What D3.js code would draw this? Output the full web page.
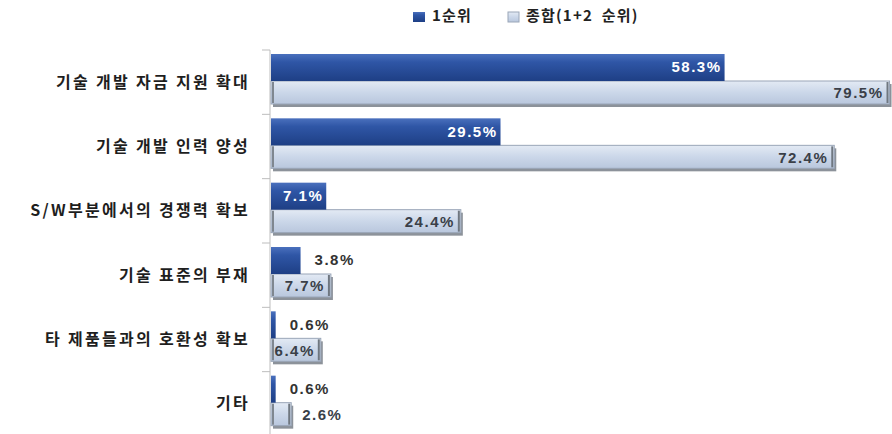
<!DOCTYPE html>
<html><head><meta charset="utf-8">
<script src="https://cdn.jsdelivr.net/npm/d3@7"></script>
<style>
html,body{margin:0;padding:0;background:#fff;}
svg{display:block;}
</style></head>
<body>
<svg id="chart" width="892" height="434"></svg>
<script>
const categories = ["기술 개발 자금 지원 확대","기술 개발 인력 양성","S/W부분에서의 경쟁력 확보","기술 표준의 부재","타 제품들과의 호환성 확보","기타"];
const seriesNames = ["1순위","종합(1+2 순위)"];
const rank1 = [58.3, 29.5, 7.1, 3.8, 0.6, 0.6];
const combined = [79.5, 72.4, 24.4, 7.7, 6.4, 2.6];

const svg = d3.select("#chart");
const defs = svg.append("defs");
const gDark = defs.append("linearGradient").attr("id","gDark").attr("x1",0).attr("y1",0).attr("x2",0).attr("y2",1);
gDark.append("stop").attr("offset","0%").attr("stop-color","#4a70bd");
gDark.append("stop").attr("offset","30%").attr("stop-color","#2f56a6");
gDark.append("stop").attr("offset","100%").attr("stop-color","#1e3f85");
const gLight = defs.append("linearGradient").attr("id","gLight").attr("x1",0).attr("y1",0).attr("x2",0).attr("y2",1);
gLight.append("stop").attr("offset","0%").attr("stop-color","#e3eaf4");
gLight.append("stop").attr("offset","50%").attr("stop-color","#cbd7e9");
gLight.append("stop").attr("offset","100%").attr("stop-color","#b9c7dd");

const x0 = 271;
const x = d3.scaleLinear().domain([0, 80]).range([x0, x0 + 80*7.78]);
const y = d3.scaleBand().domain(categories).range([50, 436]).padding(0);
const fontKR = "'Noto Sans CJK KR', 'Noto Sans', sans-serif";
const fontNum = "'Liberation Sans', Arial, sans-serif";

// axis line and ticks
svg.append("line").attr("x1",x0-1).attr("x2",x0-1).attr("y1",y.range()[0]).attr("y2",y.range()[1])
  .attr("stroke","#bdbdbd").attr("stroke-width",1);
const tickYs = categories.map(c => y(c)).concat([y.range()[1]]);
svg.selectAll("line.tick").data(tickYs).enter().append("line").attr("class","tick")
  .attr("x1",x0-9).attr("x2",x0-1).attr("y1",d=>d).attr("y2",d=>d)
  .attr("stroke","#bdbdbd");

const bh = 26;
const groups = svg.selectAll("g.grp").data(categories).enter().append("g").attr("class","grp")
  .attr("transform", d => `translate(0,${y(d)})`);

// category labels
groups.append("text").attr("x", 250).attr("y", y.bandwidth()/2 + 1)
  .attr("text-anchor","end").attr("dominant-baseline","middle")
  .attr("font-family", fontKR).attr("font-size", 16).attr("font-weight", 600)
  .attr("letter-spacing", 2.3).attr("fill","#1e1e1e").text(d => d);

// combined (light) bars with shadow
groups.append("rect").attr("x", x0+2).attr("y", 31+3)
  .attr("width", (d,i) => Math.max(0, x(combined[i]) - x0))
  .attr("height", bh-3).attr("fill","#8c929a");
groups.append("rect").attr("x", x0).attr("y", 31)
  .attr("width", (d,i) => x(combined[i]) - x0)
  .attr("height", bh-3).attr("fill","url(#gLight)")
  .attr("stroke","#9aa6b8").attr("stroke-width",1);
groups.append("line").attr("x1",(d,i)=>x(combined[i])-2).attr("x2",(d,i)=>x(combined[i])-2)
  .attr("y1",32).attr("y2",31+bh-4).attr("stroke","#6f7780").attr("stroke-width",2);
groups.append("line").attr("x1",x0+2).attr("x2",x0+2)
  .attr("y1",32).attr("y2",31+bh-4).attr("stroke","#7f8790").attr("stroke-width",2);

// rank1 (dark) bars
groups.append("rect").attr("x", x0).attr("y", 4)
  .attr("width", (d,i) => Math.max(1.5, x(rank1[i]) - x0))
  .attr("height", bh+1).attr("fill","url(#gDark)");

// labels
const fmt = v => v.toFixed(1) + "%";
groups.append("text")
  .attr("x", (d,i) => rank1[i] >= 6 ? x(rank1[i]) - 3 : x(rank1[i]) + 14)
  .attr("y", 4 + (bh+1)/2 + 1)
  .attr("text-anchor", (d,i) => rank1[i] >= 6 ? "end" : "start")
  .attr("dominant-baseline","middle")
  .attr("font-family", fontNum).attr("font-size", 15).attr("font-weight","bold")
  .attr("letter-spacing", 1.5)
  .attr("fill", (d,i) => rank1[i] >= 6 ? "#ffffff" : "#333")
  .text((d,i) => fmt(rank1[i]));
groups.append("text")
  .attr("x", (d,i) => combined[i] >= 6 ? x(combined[i]) - 6 : x(combined[i]) + 11)
  .attr("y", 31 + (bh-3)/2 + 2)
  .attr("text-anchor", (d,i) => combined[i] >= 6 ? "end" : "start")
  .attr("dominant-baseline","middle")
  .attr("font-family", fontNum).attr("font-size", 15).attr("font-weight","bold")
  .attr("letter-spacing", 1.5)
  .attr("fill","#3a3f48")
  .text((d,i) => fmt(combined[i]));

// legend
const lg = svg.append("g");
lg.append("rect").attr("x",413).attr("y",12).attr("width",12).attr("height",10).attr("fill","url(#gDark)");
lg.append("text").attr("x",432).attr("y",17).attr("dominant-baseline","middle")
  .attr("font-family",fontKR).attr("font-size",15).attr("font-weight",600).attr("letter-spacing",1.2)
  .attr("fill","#222").text(seriesNames[0]);
lg.append("rect").attr("x",508).attr("y",12).attr("width",11).attr("height",10).attr("fill","url(#gLight)").attr("stroke","#9aa6b8");
lg.append("text").attr("x",526).attr("y",17).attr("dominant-baseline","middle")
  .attr("font-family",fontKR).attr("font-size",15).attr("font-weight",600).attr("letter-spacing",1.2)
  .attr("word-spacing",4)
  .attr("fill","#222").text(seriesNames[1]);
</script>
</body></html>
